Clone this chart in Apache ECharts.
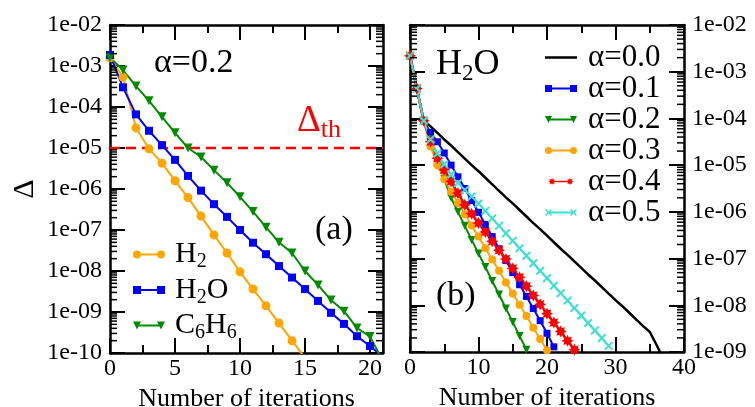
<!DOCTYPE html>
<html><head><meta charset="utf-8">
<script src="https://cdn.jsdelivr.net/npm/echarts@6/dist/echarts.min.js"></script>
<style>html,body{margin:0;padding:0;background:#fff}#c{width:755px;height:407px}</style>
</head><body><div id="c"></div>
<script>
// ---- Data: log10(Δ), index = iteration number ----
// Panel (a), α = 0.2
const h2Log   = [-2.80,-3.27,-4.51,-5.02,-5.37,-5.80,-6.21,-6.66,-7.12,-7.56,-8.02,-8.44,-8.85,-9.27,-9.70,-10.12];
const h2oLog  = [-2.73,-3.52,-4.18,-4.58,-4.93,-5.29,-5.68,-6.04,-6.37,-6.68,-7.00,-7.31,-7.59,-7.88,-8.16,-8.44,-8.73,-9.02,-9.29,-9.59,-9.83,-10.10];
const c6h6Log = [-2.80,-3.10,-3.49,-3.85,-4.24,-4.63,-5.00,-5.22,-5.54,-5.85,-6.19,-6.55,-6.93,-7.30,-7.56,-8.00,-8.34,-8.71,-8.98,-9.39,-9.60,-10.20];
const thresholdValue = 1e-5;
// Panel (b), H2O
const a00Log = [-2.66,-3.36,-4.05,-4.17,-4.31,-4.45,-4.58,-4.72,-4.86,-5.00,-5.13,-5.27,-5.41,-5.55,-5.69,-5.82,-5.96,-6.10,-6.24,-6.37,-6.51,-6.65,-6.79,-6.92,-7.06,-7.20,-7.34,-7.47,-7.61,-7.75,-7.89,-8.02,-8.16,-8.30,-8.44,-8.57,-8.85,-9.15];
const a01Log = [-2.66,-3.36,-4.05,-4.30,-4.50,-4.74,-5.00,-5.25,-5.50,-5.76,-6.01,-6.27,-6.53,-6.79,-7.04,-7.30,-7.56,-7.81,-8.07,-8.33,-8.60,-8.89];
const a02Log = [-2.66,-3.36,-4.05,-4.45,-4.85,-5.30,-5.70,-6.00,-6.30,-6.60,-6.89,-7.18,-7.48,-7.77,-8.07,-8.36,-8.66,-8.95];
const a03Log = [-2.66,-3.36,-4.05,-4.60,-5.00,-5.30,-5.57,-5.81,-6.05,-6.29,-6.53,-6.78,-7.02,-7.26,-7.51,-7.75,-7.99,-8.23,-8.48,-8.72,-8.96];
const a04Log = [-2.66,-3.36,-4.05,-4.50,-4.85,-5.10,-5.35,-5.60,-5.85,-6.04,-6.24,-6.43,-6.63,-6.82,-7.01,-7.21,-7.40,-7.59,-7.79,-7.98,-8.18,-8.37,-8.56,-8.76,-8.95];
const a05Log = [-2.66,-3.36,-4.05,-4.45,-4.75,-4.98,-5.20,-5.38,-5.53,-5.67,-5.82,-5.98,-6.14,-6.30,-6.46,-6.62,-6.78,-6.94,-7.10,-7.26,-7.42,-7.58,-7.74,-7.90,-8.06,-8.22,-8.38,-8.54,-8.70,-8.87];
// Axis ranges and tick labels
const leftXMax = 21, rightXMax = 40;
const leftXLabels  = ['0','5','10','15','20'];
const rightXLabels = ['0','10','20','30','40'];
const leftYLabels  = ['1e-10','1e-09','1e-08','1e-07','1e-06','1e-05','1e-04','1e-03','1e-02'];
const rightYLabels = ['1e-09','1e-08','1e-07','1e-06','1e-05','1e-04','1e-03','1e-02'];
// Names
const leftRich   = {'H2':'{f|H}{s|2}','H2O':'{f|H}{s|2}{n|O}','C6H6':'{f|C}{s|6}{n|H}{s|6}'};
const rightNames = ['α=0.0','α=0.1','α=0.2','α=0.3','α=0.4','α=0.5'];

const FONT = 'Liberation Serif';
const toPts = arr => arr.map((e, i) => [i, Math.pow(10, e)]);

// ---- marker / icon shapes ----
function starD(cx, cy, R, r, n) {
  let d = '';
  for (let k = 0; k < 2 * n; k++) {
    const ang = -Math.PI / 2 + k * Math.PI / n;
    const rad = k % 2 === 0 ? R : r;
    d += (k === 0 ? 'M' : 'L') + (cx + rad * Math.cos(ang)).toFixed(2) + ',' + (cy + rad * Math.sin(ang)).toFixed(2) + ' ';
  }
  return d + 'Z ';
}
function crossD(cx, cy, R) {
  const s = R / 5;
  const pts = [[0,1.6],[1.6,0],[5,3.4],[8.4,0],[10,1.6],[6.6,5],[10,8.4],[8.4,10],[5,6.6],[1.6,10],[0,8.4],[3.4,5]];
  return pts.map((p, k) => (k === 0 ? 'M' : 'L') + (cx - R + p[0] * s).toFixed(2) + ',' + (cy - R + p[1] * s).toFixed(2)).join(' ') + ' Z ';
}
function markD(kind, cx, cy, r) {
  if (kind === 'circle') return `M${cx - r},${cy} A${r},${r} 0 1 1 ${cx + r},${cy} A${r},${r} 0 1 1 ${cx - r},${cy} Z `;
  if (kind === 'rect') return `M${cx - r},${cy - r} L${cx + r},${cy - r} L${cx + r},${cy + r} L${cx - r},${cy + r} Z `;
  if (kind === 'tri') return `M${cx - r},${cy - r} L${cx + r},${cy - r} L${cx},${cy + r} Z `;
  if (kind === 'star') return starD(cx, cy, r, r * 0.6, 8);
  if (kind === 'cross') return crossD(cx, cy, r);
  return '';
}
function iconPath(kind, w, h, lw) {
  const r = h / 2, cy = h / 2;
  let d = `M${r},${cy - lw / 2} L${w - r},${cy - lw / 2} L${w - r},${cy + lw / 2} L${r},${cy + lw / 2} Z `;
  if (kind === 'none') {
    d = `M0,${cy - lw / 2} L${w},${cy - lw / 2} L${w},${cy + lw / 2} L0,${cy + lw / 2} Z `;
    d += `M0,0 L0.01,0 L0,0.01 Z M${w},${h} L${w - 0.01},${h} L${w},${h - 0.01} Z`;
  } else {
    d += markD(kind, r, cy, r) + markD(kind, w - r, cy, r);
  }
  return 'path://' + d;
}
const starSymbol  = 'path://' + starD(10, 10, 10, 6, 8);
const crossSymbol = 'path://' + crossD(10, 10, 10);

function minorTicks(e0, e1) {
  const out = [];
  for (let e = e0; e < e1; e++) for (let m = 2; m <= 9; m++) out.push([0, m * Math.pow(10, e)]);
  return out;
}
function tickSeries(xi, yi, xmin, xmax, data) {
  return {
    type: 'custom', xAxisIndex: xi, yAxisIndex: yi, silent: true, clip: false, z: 5,
    data: data, encode: {x: 0, y: 1},
    renderItem: (params, api) => {
      const v = api.value(1);
      const a = api.coord([xmin, v]), b = api.coord([xmax, v]);
      const st = {stroke: '#000', lineWidth: 1.5};
      return {type: 'group', children: [
        {type: 'line', shape: {x1: a[0], y1: a[1], x2: a[0] + 7, y2: a[1]}, style: st},
        {type: 'line', shape: {x1: b[0], y1: b[1], x2: b[0] - 7, y2: b[1]}, style: st}
      ]};
    }
  };
}

const axisLineStyle = {show: true, onZero: false, lineStyle: {color: '#000', width: 2.5}};
const majorTick = {show: true, inside: true, length: 15, lineStyle: {color: '#000', width: 2}};
const labelFont = {fontFamily: FONT, fontSize: 24, color: '#000'};
const nameFont = {fontFamily: FONT, fontSize: 26, color: '#000'};

function xAx(grid, max, interval, labels, pos) {
  return {
    gridIndex: grid, type: 'value', min: 0, max: max, interval: interval, position: pos,
    axisLine: axisLineStyle, axisTick: majorTick,
    minorTick: {show: true, splitNumber: 2, length: 8, lineStyle: {color: '#000', width: 2}},
    splitLine: {show: false}, minorSplitLine: {show: false},
    axisLabel: pos === 'bottom' ? Object.assign({show: true, margin: 4,
      formatter: v => (v % interval === 0 ? (labels[v / interval] || '') : '')}, labelFont) : {show: false},
    name: pos === 'bottom' ? 'Number of iterations' : '',
    nameLocation: 'middle', nameGap: 28, nameTextStyle: nameFont
  };
}
function yAx(grid, emin, emax, labels, pos, showLabel, name) {
  return {
    gridIndex: grid, type: 'log', logBase: 10, min: Math.pow(10, emin), max: Math.pow(10, emax),
    splitNumber: emax - emin, position: pos,
    axisLine: axisLineStyle, axisTick: majorTick, splitLine: {show: false},
    axisLabel: showLabel ? Object.assign({show: true, margin: 8,
      formatter: v => labels[Math.round(Math.log10(v)) - emin] || ''}, labelFont) : {show: false},
    name: name || '', nameLocation: 'middle', nameGap: 70,
    nameTextStyle: {fontFamily: FONT, fontSize: 30, color: '#000'}
  };
}

function lineSeries(name, data, color, symbol, size, xi, yi, extra) {
  return Object.assign({
    type: 'line', name: name, data: toPts(data), xAxisIndex: xi, yAxisIndex: yi,
    symbol: symbol, symbolSize: size, showSymbol: symbol !== 'none',
    lineStyle: {color: color, width: 2}, itemStyle: {color: color},
    clip: true, z: 2, emphasis: {disabled: true}
  }, extra || {});
}

const txt = (x, y, text, size, color, rich) => ({
  type: 'text', x: x, y: y, z: 10,
  style: Object.assign({text: text, fontFamily: FONT, fontSize: size, fill: color, verticalAlign: 'middle'}, rich ? {rich: rich} : {})
});

const chart = echarts.init(document.getElementById('c'));
chart.setOption({
  animation: false,
  backgroundColor: '#fff',
  grid: [
    {left: 110, top: 25, width: 273, height: 328, containLabel: false, outerBoundsMode: 'none'},
    {left: 410, top: 25, width: 274, height: 327, containLabel: false, outerBoundsMode: 'none'}
  ],
  xAxis: [
    xAx(0, leftXMax, 5, leftXLabels, 'bottom'),
    xAx(0, leftXMax, 5, leftXLabels, 'top'),
    xAx(1, rightXMax, 10, rightXLabels, 'bottom'),
    xAx(1, rightXMax, 10, rightXLabels, 'top')
  ],
  yAxis: [
    yAx(0, -10, -2, leftYLabels, 'left', true, 'Δ'),
    yAx(0, -10, -2, leftYLabels, 'right', false),
    yAx(1, -9, -2, rightYLabels, 'left', false),
    yAx(1, -9, -2, rightYLabels, 'right', true)
  ],
  legend: [
    {
      data: [
        {name: 'H2', icon: iconPath('circle', 32, 8, 2)},
        {name: 'H2O', icon: iconPath('rect', 32, 8, 2)},
        {name: 'C6H6', icon: iconPath('tri', 32, 8, 2)}
      ],
      orient: 'vertical', left: 128, top: 232, itemWidth: 32, itemHeight: 8, itemGap: 0.5,
      selectedMode: false, formatter: n => leftRich[n],
      textStyle: {fontFamily: FONT, fontSize: 30, color: '#000', lineHeight: 35,
        rich: {
          f: {fontFamily: FONT, fontSize: 30, lineHeight: 35, color: '#000', padding: [0, 0, 0, 5]},
          n: {fontFamily: FONT, fontSize: 30, lineHeight: 35, color: '#000'},
          s: {fontFamily: FONT, fontSize: 20, lineHeight: 12, color: '#000', verticalAlign: 'bottom'}
        }}
    },
    {
      data: [
        {name: rightNames[0], icon: iconPath('none', 32, 7, 2.5)},
        {name: rightNames[1], icon: iconPath('rect', 32, 7, 2)},
        {name: rightNames[2], icon: iconPath('tri', 32, 7, 2)},
        {name: rightNames[3], icon: iconPath('circle', 32, 7, 2)},
        {name: rightNames[4], icon: iconPath('star', 32, 9, 2)},
        {name: rightNames[5], icon: iconPath('cross', 32, 7, 2)}
      ],
      orient: 'vertical', left: 540, top: 37, itemWidth: 32, itemHeight: 7, itemGap: 0,
      selectedMode: false, formatter: n => '{f|' + n + '}',
      textStyle: {fontFamily: FONT, fontSize: 31, color: '#000', lineHeight: 30,
        rich: {f: {fontFamily: FONT, fontSize: 31, lineHeight: 30, color: '#000', padding: [0, 0, 0, 6]}}}
    }
  ],
  graphic: [
    txt(154, 63, 'α=0.2', 34, '#000'),
    txt(297, 121, '{m|Δ}{s|th}', 37, '#f00', {
      m: {fontSize: 37, fontFamily: FONT, lineHeight: 44, fill: '#f00'},
      s: {fontSize: 26, fontFamily: FONT, lineHeight: 19, fill: '#f00', verticalAlign: 'bottom'}}),
    txt(315, 230, '(a)', 34, '#000'),
    txt(436, 65, '{m|H}{s|2}{m|O}', 36, '#000', {
      m: {fontSize: 36, fontFamily: FONT, lineHeight: 40, fill: '#000'},
      s: {fontSize: 23, fontFamily: FONT, lineHeight: 19, fill: '#000', verticalAlign: 'bottom'}}),
    txt(436, 296, '(b)', 34, '#000')
  ],
  series: [
    {
      type: 'line', name: 'threshold', xAxisIndex: 0, yAxisIndex: 0, symbol: 'none', silent: true, z: 1,
      data: [[0, thresholdValue], [leftXMax, thresholdValue]],
      lineStyle: {color: '#ff0000', type: [10, 6], width: 2.5}
    },
    lineSeries('H2', h2Log, '#ffa500', 'circle', 9, 0, 0),
    lineSeries('H2O', h2oLog, '#0000ff', 'rect', 8, 0, 0),
    lineSeries('C6H6', c6h6Log, '#008b00', 'triangle', 9, 0, 0, {symbolRotate: 180}),
    lineSeries(rightNames[0], a00Log, '#000000', 'none', 0, 2, 2, {lineStyle: {color: '#000', width: 2.5}}),
    lineSeries(rightNames[1], a01Log, '#0000ff', 'rect', 7, 2, 2),
    lineSeries(rightNames[2], a02Log, '#008b00', 'triangle', 8, 2, 2, {symbolRotate: 180}),
    lineSeries(rightNames[3], a03Log, '#ffa500', 'circle', 8, 2, 2),
    lineSeries(rightNames[4], a04Log, '#ff0000', starSymbol, 12, 2, 2, {lineStyle: {color: '#ff0000', width: 2.5}}),
    lineSeries(rightNames[5], a05Log, '#40e0d0', crossSymbol, 9, 2, 2),
    tickSeries(0, 0, 0, leftXMax, minorTicks(-10, -2)),
    tickSeries(2, 2, 0, rightXMax, minorTicks(-9, -2))
  ]
});
</script></body></html>
